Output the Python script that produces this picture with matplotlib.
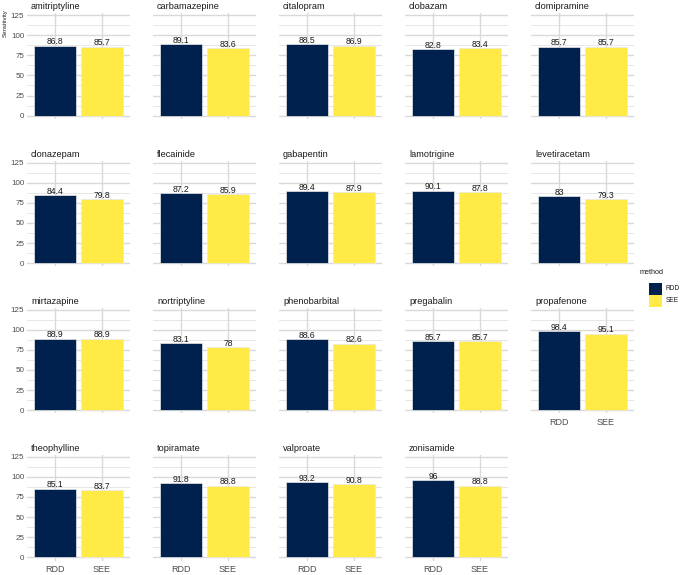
import matplotlib
matplotlib.use("Agg")
import matplotlib.pyplot as plt

plt.rcParams["font.family"] = ["Liberation Sans", "DejaVu Sans"]

drugs = ["amitriptyline", "carbamazepine", "citalopram", "clobazam", "clomipramine",
         "clonazepam", "flecainide", "gabapentin", "lamotrigine", "levetiracetam",
         "mirtazapine", "nortriptyline", "phenobarbital", "pregabalin", "propafenone",
         "theophylline", "topiramate", "valproate", "zonisamide"]
methods = ["RDD", "SEE"]
rdd = [86.8, 89.1, 88.5, 82.8, 85.7,
       84.4, 87.2, 89.4, 90.1, 83,
       88.9, 83.1, 88.6, 85.7, 98.4,
       85.1, 91.8, 93.2, 96]
see = [85.7, 83.6, 86.9, 83.4, 85.7,
       79.8, 85.9, 87.9, 87.8, 79.3,
       88.9, 78, 82.6, 85.7, 95.1,
       83.7, 88.8, 90.8, 88.8]
yticks = [0, 25, 50, 75, 100, 125]
colors = {"RDD": "#00204D", "SEE": "#FFEA46"}

W, H = 685, 575
fig = plt.figure(figsize=(W / 100, H / 100), dpi=100)

ncol = 5
left0, step_x, pw = 27, 126, 103
ymin, ymax = -4.0, 127.0
pxu = 0.805
ph = (ymax - ymin) * pxu
top_rows = [13.4, 160.9, 308.0, 455.1]
tick_col = "#4D4D4D"

def fmt(v):
    return f"{v:g}"

for i, d in enumerate(drugs):
    r, c = divmod(i, ncol)
    x0 = left0 + c * step_x
    y0 = top_rows[r]
    ax = fig.add_axes([x0 / W, 1 - (y0 + ph) / H, pw / W, ph / H])
    vals = [rdd[i], see[i]]
    xs = [1, 2]
    ax.set_xlim(0.4, 2.6)
    ax.set_ylim(ymin, ymax)
    for yy in [12.5 + 25 * k for k in range(5)]:
        ax.axhline(yy, color="#E3E3E3", lw=0.6, zorder=0)
    for yy in yticks:
        ax.axhline(yy, color="#D9D9D9", lw=1.0, zorder=0)
    for xx in xs:
        ax.axvline(xx, color="#D9D9D9", lw=1.0, zorder=0)
    ax.bar(xs, vals, width=0.9, color=[colors[m] for m in methods],
           edgecolor="#E8E8E8", linewidth=0.5, zorder=2)
    for xx, v in zip(xs, vals):
        ax.text(xx, v - 0.8, fmt(v), ha="center", va="bottom", fontsize=6.2,
                color="#1A1A1A", zorder=3)
    for s in ax.spines.values():
        s.set_visible(False)
    ax.tick_params(axis="y", length=0, pad=2, labelsize=5.8, labelcolor=tick_col)
    ax.tick_params(axis="x", length=0, pad=3, labelsize=6.5, labelcolor=tick_col)
    ax.set_yticks(yticks)
    ax.set_xticks(xs)
    if c == 0:
        ax.set_yticklabels([str(t) for t in yticks])
    else:
        ax.set_yticklabels([])
    last_in_col = (i + ncol >= len(drugs))
    if last_in_col:
        ax.set_xticklabels(methods)
    else:
        ax.set_xticklabels([])
    fig.text((x0 + 4) / W, 1 - (y0 - 4) / H, d, ha="left", va="baseline",
             fontsize=6.6, color="#1A1A1A")

fig.text(5 / W, 1 - 23 / H, "Sensitivity", rotation=90, ha="center", va="center",
         fontsize=4.4, color="#1A1A1A")

# legend
fig.text(640 / W, 1 - 272 / H, "method", ha="left", va="center", fontsize=5.2,
         color="#1A1A1A")
for k, m in enumerate(methods):
    ky = 283 + k * 12
    fig.patches.append(plt.Rectangle((649 / W, 1 - (ky + 11.5) / H), 13 / W, 11.5 / H,
                                     transform=fig.transFigure, facecolor=colors[m],
                                     edgecolor="none"))
    fig.text(666 / W, 1 - (ky + 6) / H, m, ha="left", va="center", fontsize=4.8,
             color="#1A1A1A")

fig.savefig("out.png", dpi=100, facecolor="white")
